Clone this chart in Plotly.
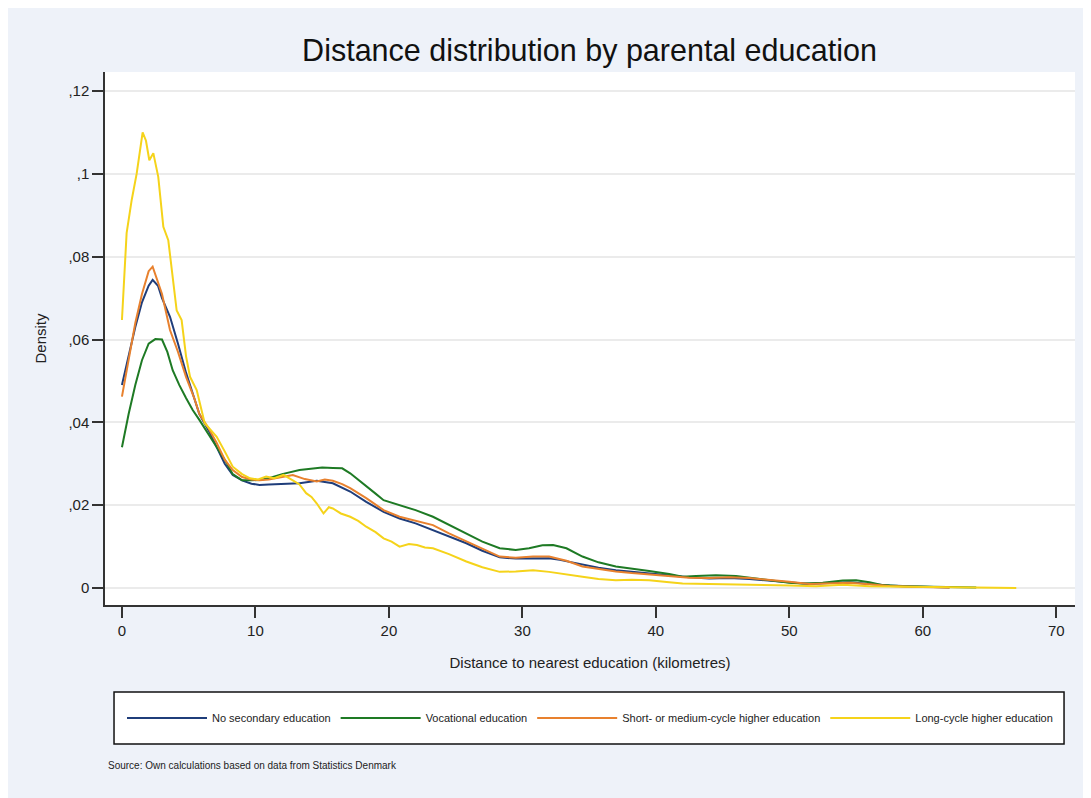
import plotly.graph_objects as go

# ---------------- data ----------------
no_sec_x = [0, 0.5, 1, 1.5, 2, 2.3, 2.7, 3, 3.6, 4.2, 4.8, 5.4, 5.8, 6.5, 7.1, 7.7, 8.3, 9, 9.7, 10.3,
            11, 12, 13.3, 14.6, 15.8, 17.1, 18.3, 19.6, 20.8, 22, 23.3, 24.5, 25.8, 27, 28.3, 29.5,
            30.8, 32, 32.8, 33.7, 34.5, 35.7, 37, 38.2, 39.5, 41, 42.5, 44, 45.5, 47, 48.5, 50,
            51.5, 53, 54.5, 56, 57.5, 59, 60.5, 62]
no_sec_y = [0.049, 0.056, 0.063, 0.069, 0.073, 0.0744, 0.073, 0.070, 0.0655, 0.059, 0.052, 0.046,
            0.042, 0.038, 0.0341, 0.030, 0.0273, 0.0260, 0.0252, 0.0249, 0.0250, 0.0251, 0.0253,
            0.0259, 0.0253, 0.0233, 0.0208, 0.0184, 0.0168, 0.0156, 0.0140, 0.0124, 0.0108, 0.0090,
            0.0074, 0.0071, 0.0072, 0.0072, 0.0068, 0.0062, 0.0056, 0.0049, 0.0043, 0.0039, 0.0035,
            0.0030, 0.0026, 0.0023, 0.0024, 0.0022, 0.0018, 0.0013, 0.0010, 0.0012, 0.0014, 0.0010,
            0.0006, 0.0004, 0.0002, 0.0001]

voc_x = [0, 0.5, 1, 1.5, 2, 2.5, 3, 3.4, 3.8, 4.3, 4.8, 5.3, 5.8, 6.5, 7.1, 7.7, 8.3, 9, 9.7, 10.3,
         11, 12, 13.3, 14.3, 15, 15.8, 16.5, 17.1, 17.7, 18.3, 19, 19.6, 20.8, 22, 23.3, 24.5, 25.8,
         27, 28.3, 29.5, 30.5, 31.5, 32.3, 33.3, 34.5, 35.7, 37, 38.2, 39.5, 41, 42, 43, 44.5, 46,
         47, 48.5, 50, 51, 52.5, 54, 55, 56, 57, 58.5, 60, 62, 64]
voc_y = [0.034, 0.042, 0.049, 0.055, 0.059, 0.0601, 0.060, 0.057, 0.0526, 0.049, 0.0459, 0.043,
         0.0406, 0.037, 0.034, 0.031, 0.0275, 0.026, 0.026, 0.0261, 0.0265, 0.0275, 0.0285, 0.0288,
         0.0291, 0.0290, 0.0289, 0.0277, 0.0262, 0.0245, 0.0228, 0.0212, 0.020, 0.0188, 0.0172,
         0.0152, 0.0132, 0.0112, 0.0096, 0.0092, 0.0096, 0.0103, 0.0104, 0.0096, 0.0076, 0.0062,
         0.0052, 0.0046, 0.0041, 0.0034, 0.0027, 0.0029, 0.0031, 0.0029, 0.0025, 0.0020, 0.0013,
         0.0011, 0.0013, 0.0018, 0.0019, 0.0014, 0.0007, 0.0004, 0.0003, 0.0002, 0.0001]

short_x = [0, 0.5, 1, 1.5, 2, 2.3, 2.7, 3, 3.6, 4.2, 4.8, 5.4, 5.8, 6.5, 7.1, 7.7, 8.3, 9, 9.7, 10.3,
           11, 12, 12.8, 13.7, 14.6, 15.2, 15.8, 16.5, 17.1, 18.3, 19.6, 20.8, 22, 23.3, 24.5, 25.8,
           27, 28.3, 29.5, 30.8, 32, 33.3, 34.5, 35.7, 37, 38.2, 39.5, 41, 42.5, 44, 45.5, 47, 48.5,
           50, 51.5, 53, 54.5, 56, 57.5, 59, 60.5, 62]
short_y = [0.0462, 0.055, 0.064, 0.071, 0.0765, 0.0776, 0.074, 0.071, 0.0623, 0.057, 0.051, 0.046,
           0.042, 0.0385, 0.035, 0.031, 0.0285, 0.0268, 0.0262, 0.026, 0.0262, 0.0268, 0.0273,
           0.0263, 0.0257, 0.0262, 0.0259, 0.0251, 0.0241, 0.0217, 0.0188, 0.0172, 0.0162, 0.0152,
           0.0132, 0.0113, 0.0094, 0.0076, 0.0073, 0.0076, 0.0076, 0.0066, 0.0052, 0.0046, 0.0040,
           0.0036, 0.0033, 0.0029, 0.0025, 0.0024, 0.0026, 0.0024, 0.0020, 0.0015, 0.0010, 0.0011,
           0.0013, 0.0009, 0.0005, 0.0003, 0.0002, 0.0001]

long_x = [0, 0.35, 0.73, 1.1, 1.55, 1.8, 2.05, 2.35, 2.72, 3.1, 3.47, 3.8, 4.1, 4.47, 4.8, 5.1, 5.6,
          6.2, 6.7, 7.1, 7.7, 8.3, 9, 9.6, 10.2, 10.8, 11.4, 12.1, 12.8, 13.3, 13.8, 14.2, 14.6,
          15.1, 15.5, 15.8, 16.4, 17.1, 17.7, 18.3, 19, 19.6, 20.2, 20.8, 21.5, 22.1, 22.7, 23.3,
          24.5, 25.8, 27, 28.3, 29.5, 30.8, 32, 33.3, 34.5, 35.7, 37, 38.2, 39.5, 41, 42, 44, 46,
          48, 50, 52, 54, 56, 58, 60, 62, 64, 67]
long_y = [0.0647, 0.0857, 0.0937, 0.100, 0.110, 0.108, 0.1033, 0.105, 0.0993, 0.0872, 0.084, 0.075,
          0.067, 0.0647, 0.056, 0.051, 0.0478, 0.0398, 0.038, 0.0365, 0.033, 0.0293, 0.0275, 0.0265,
          0.0262, 0.0269, 0.0265, 0.0273, 0.026, 0.025, 0.0229, 0.022, 0.0204, 0.018, 0.0195,
          0.0192, 0.018, 0.0172, 0.0162, 0.0148, 0.0135, 0.012, 0.0112, 0.0100, 0.0106, 0.0104,
          0.0098, 0.0096, 0.0082, 0.0064, 0.0050, 0.0039, 0.0040, 0.0043, 0.0039, 0.0032, 0.0027,
          0.0022, 0.0019, 0.0020, 0.0019, 0.0014, 0.0011, 0.0010, 0.0009, 0.0008, 0.0006, 0.0004,
          0.0008, 0.0004, 0.0003, 0.0002, 0.0001, 0.0001, 0.0]

series_names = ["No secondary education", "Vocational education",
                "Short- or medium-cycle higher education", "Long-cycle higher education"]
series_colors = ["#1f3d7a", "#1e7a24", "#e8812e", "#f5d31a"]

y_tickvals = [0, 0.02, 0.04, 0.06, 0.08, 0.1, 0.12]
y_ticktext = ["0", ",02", ",04", ",06", ",08", ",1", ",12"]
x_tickvals = [0, 10, 20, 30, 40, 50, 60, 70]

# ---------------- figure ----------------
fig = go.Figure()
for name, color, xs, ys in zip(series_names, series_colors,
                               [no_sec_x, voc_x, short_x, long_x],
                               [no_sec_y, voc_y, short_y, long_y]):
    fig.add_trace(go.Scatter(x=xs, y=ys, mode="lines", name=name,
                             line=dict(color=color, width=2)))

BG = "#eef2f9"
font_main = "Liberation Sans, Arial, sans-serif"
font_narrow = "Liberation Sans Narrow, Arial Narrow, sans-serif"

fig.update_layout(
    width=1091, height=798,
    paper_bgcolor=BG, plot_bgcolor="white",
    margin=dict(l=97, r=24, t=64, b=201),
    font=dict(family=font_main, color="#222"),
    title=dict(text="Distance distribution by parental education",
               x=0.533, xanchor="center", y=0.947, yanchor="middle",
               font=dict(size=30.5, color="#111", family=font_main)),
    showlegend=True,
    legend=dict(orientation="h", x=0.5, xanchor="center", y=-0.212, yanchor="middle",
                bgcolor="rgba(0,0,0,0)", borderwidth=0,
                font=dict(family=font_narrow, size=11, color="#222"),
                itemwidth=80, tracegroupgap=0),
    shapes=[dict(type="rect", xref="paper", yref="paper",
                 x0=0.0093, x1=0.9887, y0=-0.2608, y1=-0.1632,
                 fillcolor="white", line=dict(color="#111", width=1.5), layer="below")],
    annotations=[dict(text="Source: Own calculations based on data from Statistics Denmark",
                      xref="paper", yref="paper", x=0.001, y=-0.302,
                      xanchor="left", yanchor="middle", showarrow=False,
                      font=dict(family=font_narrow, size=10, color="#222"))],
)

fig.update_xaxes(range=[-1.27, 71.4], tickvals=x_tickvals,
                 showgrid=False, zeroline=False,
                 showline=True, linecolor="#333", linewidth=1.5,
                 ticks="outside", ticklen=11, tickwidth=1.5, tickcolor="#333",
                 tickfont=dict(size=15, color="#222"),
                 title=dict(text="Distance to nearest education (kilometres)",
                            font=dict(size=15, color="#222"), standoff=20))
fig.update_yaxes(range=[-0.0041, 0.1246], tickvals=y_tickvals, ticktext=y_ticktext,
                 showgrid=True, gridcolor="#ebebeb", gridwidth=1.5, zeroline=False,
                 showline=True, linecolor="#333", linewidth=1.5,
                 ticks="outside", ticklen=11, tickwidth=1.5, tickcolor="#333",
                 tickfont=dict(size=15, color="#222"),
                 title=dict(text="Density", font=dict(size=15, color="#222"), standoff=18))

fig.write_html("out.html")
